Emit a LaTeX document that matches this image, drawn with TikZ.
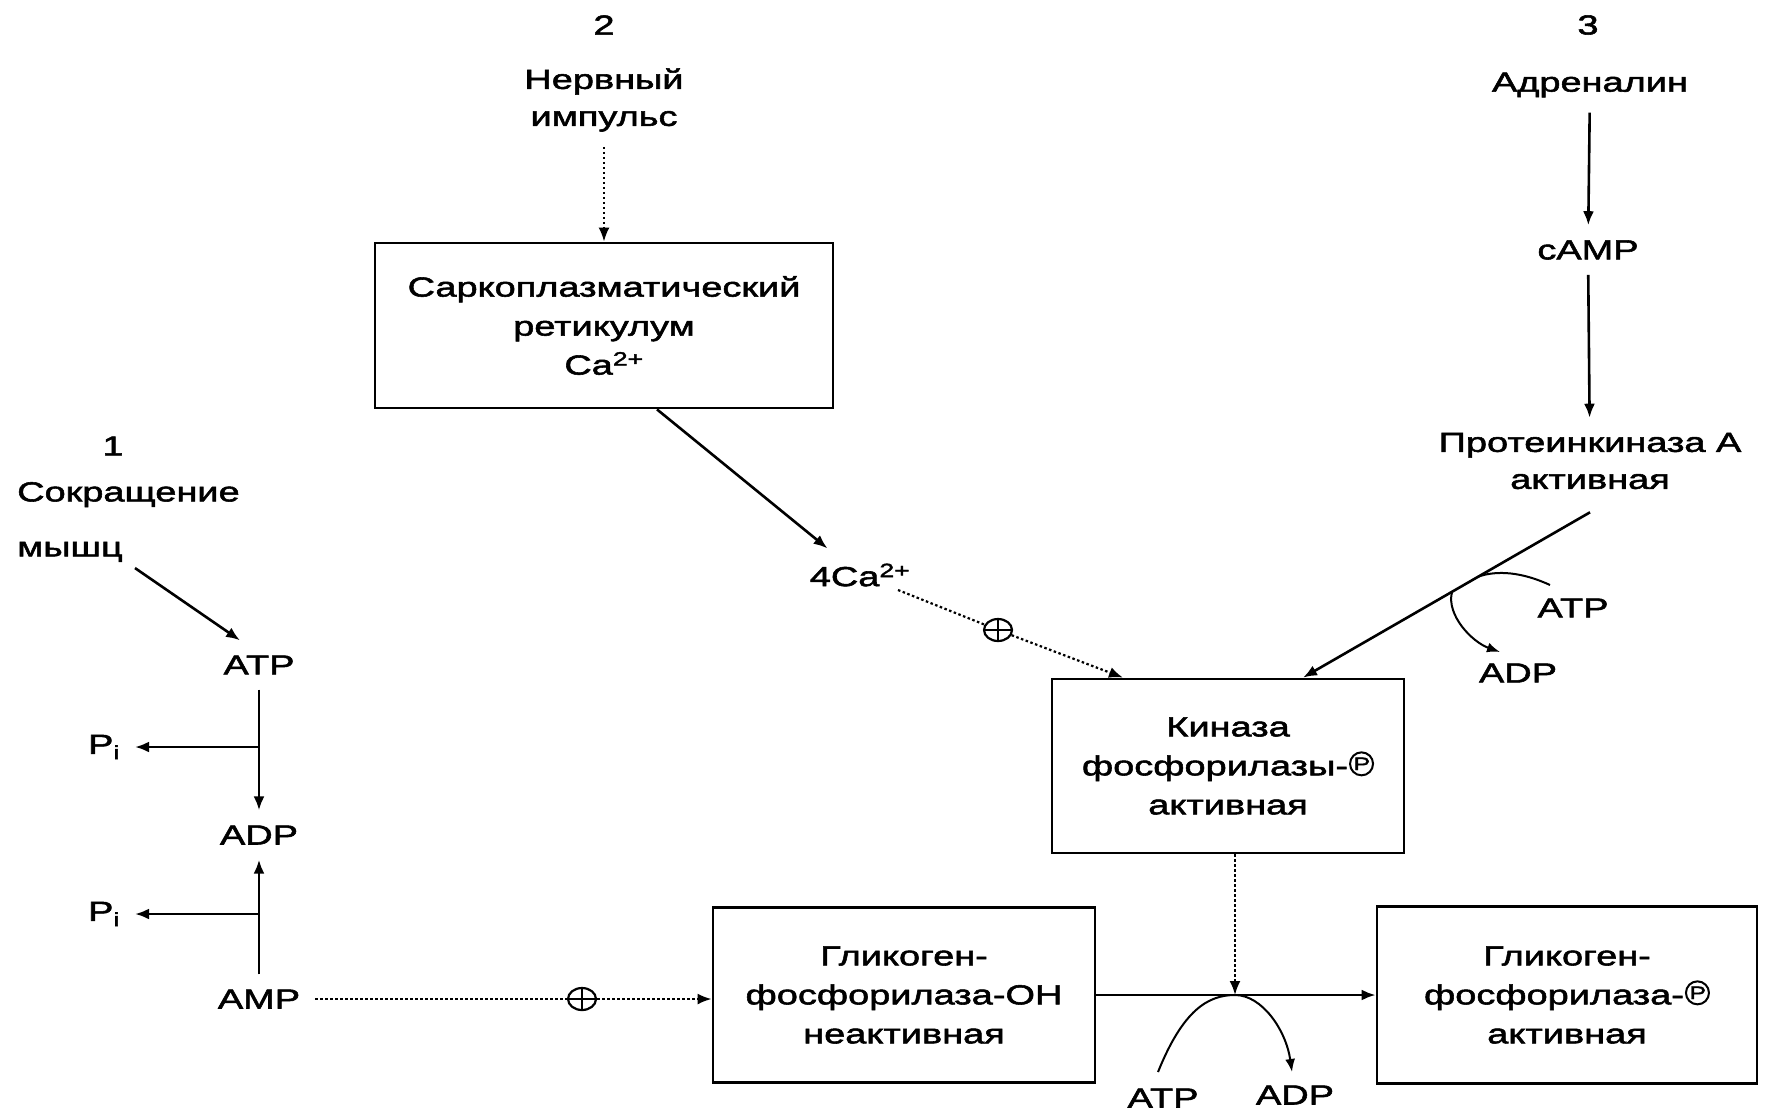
\documentclass[tikz,border=0pt]{standalone}
\usepackage{fontspec}
\setmainfont{Liberation Sans}[FakeStretch=1.38,FakeBold=2]
\usetikzlibrary{arrows.meta,shapes.geometric}
\newsavebox\circpbox
\begin{document}
\sbox\circpbox{\begin{pgfpicture}\pgfsetbaseline{0pt}\pgfsetlinewidth{2pt}\pgfpathcircle{\pgfpoint{0pt}{11.5pt}}{11.5pt}\pgfusepath{stroke}\pgftext[at={\pgfpoint{0.3pt}{11.5pt}}]{\fontsize{18}{18}\selectfont P}\end{pgfpicture}}
\begin{tikzpicture}[x=1pt,y=-1pt,
  font=\fontsize{27.5}{39}\selectfont,
  arr/.style={-{Latex[length=14pt,width=11pt]}, line width=2.6pt},
  thinarr/.style={-{Latex[length=13pt,width=10pt]}, line width=2pt},
  dotline/.style={line width=2.2pt, dash pattern=on 2.5pt off 2.5pt},
  dotarr/.style={dotline, -{Latex[length=14pt,width=11pt]}},
  box/.style={draw, line width=2.8pt, align=center, inner sep=0pt},
  lbl/.style={inner sep=15pt, align=center},
  pluscirc/.style={ellipse, draw, line width=2.2pt, minimum width=28pt, minimum height=22pt, inner sep=0pt,
    path picture={\draw[line width=1.8pt] (path picture bounding box.north) -- (path picture bounding box.south)
      (path picture bounding box.west) -- (path picture bounding box.east);}}]
\fill[white] (0,0) rectangle (1769,1112);
\useasboundingbox (0,0) rectangle (1769,1112);

% top middle
\node[lbl] (n2) at (604,25) {2};
\node[lbl] (nerv) at (604,100) {Нервный\\[-2pt]импульс};
\node[box, minimum width=458pt, minimum height=165pt] (sarco) at (604,325.5) {Саркоплазматический\\ретикулум\\Ca\textsuperscript{2+}};

% top right
\node[lbl] (n3) at (1588,25) {3};
\node[lbl] (adr) at (1590,85) {Адреналин};
\node[lbl] (camp) at (1588,250) {cAMP};
\node[lbl] (pka) at (1590,461) {Протеинкиназа А\\[-2pt]активная};

% left
\node[lbl] (n1) at (113,446) {1};
\node[inner sep=0pt, anchor=west, align=left] (contr) at (17,522) {Сокращение\\[16pt]мышц};
\node[lbl] (atp1) at (259,665) {ATP};
\node[lbl] (adp1) at (259,835) {ADP};
\node[lbl] (amp) at (259,999) {AMP};
\node[lbl] (pi1) at (104,747) {P\textsubscript{i}};
\node[lbl] (pi2) at (104,914) {P\textsubscript{i}};

% middle
\node[lbl] (ca4) at (860,575) {4Ca\textsuperscript{2+}};
\node[pluscirc] (plus1) at (998,630) {};
\node[box, minimum width=352pt, minimum height=174pt] (kin) at (1228,766) {Киназа\\фосфорилазы-\hspace{1pt}\usebox\circpbox\\активная};
\node[lbl] (atp3) at (1573,608) {ATP};
\node[lbl] (adp3) at (1518,673) {ADP};

% bottom
\node[box, minimum width=382pt, minimum height=175pt] (gpoh) at (904,995) {Гликоген-\\фосфорилаза-OH\\неактивная};
\node[box, minimum width=380pt, minimum height=177pt] (gpp) at (1567,995) {Гликоген-\\фосфорилаза-\hspace{1pt}\usebox\circpbox\\активная};
\node[pluscirc] (plus2) at (582,999) {};
\node[lbl] (atp2) at (1163,1098) {ATP};
\node[lbl] (adp2) at (1295,1095) {ADP};

% connectors top
\draw[dotarr] (nerv) -- (sarco);
\draw[arr] (adr) -- (camp);
\draw[arr] (camp) -- (pka);
\coordinate (pkaS) at ([yshift=-8pt]pka.south);
\coordinate (kinN) at ([xshift=75pt]kin.north);
\draw[arr] (pkaS) -- (kinN);
\coordinate (t1) at (1478,576.7);
\coordinate (t2) at (1452,591.9);
\coordinate (atp3s) at ([xshift=-23pt,yshift=23pt]atp3.center);
\coordinate (adp3e) at ([xshift=-18pt,yshift=21pt]adp3.center);
\draw[line width=2pt] (atp3s) .. controls (1522,572) and (1497,570) .. (t1);
\draw[thinarr] (t2) .. controls (1446,615) and (1472,642) .. (adp3e);

\draw[arr] ([xshift=53pt]sarco.south) -- (ca4);
\draw[dotline] ([xshift=38pt,yshift=-15pt]ca4.center) -- (plus1);
\draw[dotarr] (plus1) -- ([xshift=-105pt]kin.north);

% left connectors
\draw[arr] ([xshift=118pt,yshift=-6pt]contr.south west) -- ([xshift=-19pt]atp1.north);
\draw[arr] (atp1) -- (adp1);
\draw[arr] (amp) -- (adp1);
\coordinate (b1) at (atp1.south |- pi1);
\draw[arr] (b1) -- (pi1);
\coordinate (b2) at (amp.north |- pi2);
\draw[arr] (b2) -- (pi2);
\draw[dotline] (amp) -- (plus2);
\draw[dotarr] (plus2) -- (plus2 -| gpoh.west);

% bottom connectors
\coordinate (rx) at (1235,995);
\draw[arr] (gpoh) -- (gpp);
\draw[dotarr] ([xshift=7pt]kin.south) -- (rx);
\coordinate (atp2s) at ([xshift=-5pt,yshift=26pt]atp2.center);
\coordinate (adp2e) at ([xshift=-3pt,yshift=23pt]adp2.center);
\draw[thinarr] (atp2s) .. controls (1183,1010) and (1208,995) .. (rx) .. controls (1262,995) and (1286,1030) .. (adp2e);
\end{tikzpicture}
\end{document}
